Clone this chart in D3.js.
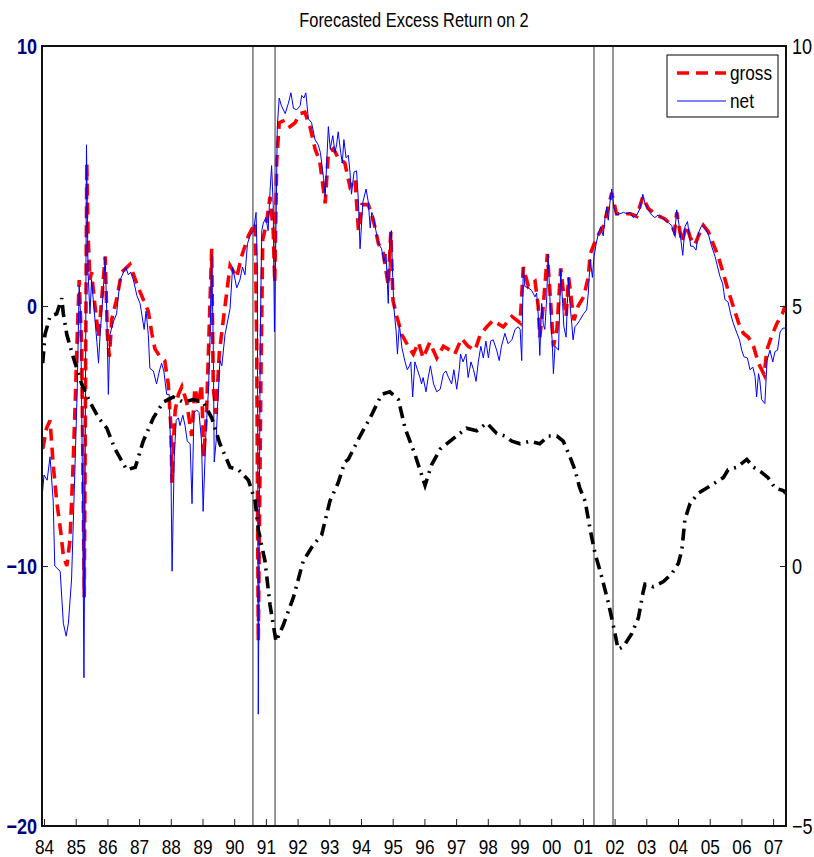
<!DOCTYPE html>
<html>
<head>
<meta charset="utf-8">
<title>Forecasted Excess Return on 2</title>
<style>
body { margin: 0; background: #fff; overflow: hidden; }
text { font-family: "Liberation Sans", Arial, sans-serif; }
.axis path { display: none; }
.axis line { stroke: #222; stroke-width: 1; }
</style>
</head>
<body>
<script src="https://cdn.jsdelivr.net/npm/d3@7"></script>
<script>
var width = 814, height = 857,
    margin = {top: 46, right: 28, bottom: 31, left: 42};

// year ticks on the bottom axis
var yearTicks = d3.range(1984, 2008);
var leftTicks = [-20, -10, 0, 10];
var rightTicks = [-5, 0, 5, 10];
// gray vertical lines (recession start / end)
var recessions = [1990.59, 1991.29, 2001.35, 2001.95];

// net (blue, left axis)
var netYears = [1983.93,1984.00,1984.10,1984.19,1984.29,1984.34,1984.51,1984.61,1984.70,1984.77,1984.87,1984.98,
  1985.05,1985.11,1985.16,1985.22,1985.26,1985.30,1985.34,1985.39,1985.45,1985.50,1985.55,1985.67,1985.72,1985.77,
  1985.87,1985.93,1985.98,1986.03,1986.08,1986.19,1986.29,1986.40,1986.58,1986.66,1986.73,1986.82,1986.93,1987.03,
  1987.16,1987.22,1987.29,1987.34,1987.45,1987.55,1987.64,1987.71,1987.78,1987.87,1987.95,1988.00,1988.04,1988.11,
  1988.17,1988.24,1988.29,1988.38,1988.45,1988.52,1988.61,1988.67,1988.73,1988.82,1988.89,1988.97,1989.02,1989.11,
  1989.19,1989.24,1989.29,1989.34,1989.37,1989.43,1989.47,1989.55,1989.61,1989.71,1989.87,1989.95,1990.08,1990.18,
  1990.26,1990.34,1990.42,1990.50,1990.61,1990.69,1990.73,1990.76,1990.82,1990.87,1990.92,1991.00,1991.07,1991.13,
  1991.18,1991.23,1991.27,1991.32,1991.36,1991.42,1991.49,1991.61,1991.71,1991.79,1991.87,1991.97,1992.08,1992.13,
  1992.20,1992.26,1992.34,1992.44,1992.55,1992.65,1992.72,1992.82,1992.87,1992.92,1992.97,1993.03,1993.11,1993.18,
  1993.23,1993.28,1993.36,1993.41,1993.46,1993.53,1993.60,1993.65,1993.70,1993.78,1993.86,1993.92,1993.97,1994.06,
  1994.16,1994.23,1994.29,1994.34,1994.39,1994.47,1994.55,1994.65,1994.72,1994.79,1994.86,1994.91,1994.96,1995.00,
  1995.04,1995.11,1995.15,1995.21,1995.29,1995.39,1995.46,1995.53,1995.57,1995.63,1995.70,1995.78,1995.86,1995.91,
  1995.96,1996.05,1996.12,1996.19,1996.29,1996.39,1996.50,1996.60,1996.68,1996.76,1996.86,1996.93,1997.02,1997.10,
  1997.14,1997.22,1997.31,1997.38,1997.47,1997.55,1997.63,1997.70,1997.78,1997.86,1997.94,1998.02,1998.09,1998.17,
  1998.28,1998.36,1998.43,1998.54,1998.64,1998.76,1998.86,1998.96,1999.02,1999.07,1999.12,1999.17,1999.28,1999.38,
  1999.49,1999.54,1999.59,1999.64,1999.70,1999.75,1999.80,1999.86,1999.90,1999.95,1999.99,2000.03,2000.07,2000.12,
  2000.23,2000.30,2000.36,2000.40,2000.47,2000.51,2000.55,2000.59,2000.65,2000.69,2000.75,2000.82,2000.90,2001.02,
  2001.12,2001.17,2001.23,2001.30,2001.35,2001.42,2001.49,2001.56,2001.64,2001.70,2001.75,2001.80,2001.85,2001.91,
  2001.98,2002.06,2002.17,2002.28,2002.39,2002.49,2002.59,2002.70,2002.80,2002.89,2002.96,2003.06,2003.17,2003.27,
  2003.37,2003.49,2003.59,2003.70,2003.80,2003.89,2003.96,2004.04,2004.15,2004.22,2004.30,2004.40,2004.48,2004.57,
  2004.64,2004.75,2004.85,2004.96,2005.06,2005.17,2005.25,2005.32,2005.41,2005.48,2005.58,2005.66,2005.74,2005.86,
  2005.94,2006.01,2006.08,2006.19,2006.27,2006.36,2006.43,2006.48,2006.54,2006.58,2006.64,2006.74,2006.81,2006.90,
  2006.99,2007.06,2007.14,2007.22,2007.31,2007.38];
var net = [-7.5,-6.5,-6.7,-5.8,-7.5,-10.0,-10.2,-12.2,-12.7,-12.2,-10.5,-6.1,
  -3.1,0.8,-0.5,-7.5,-14.3,-6.1,6.2,1.3,-0.3,1.0,0.3,-1.4,-2.2,-1.1,
  0.6,1.9,-0.2,-3.4,-1.1,-0.6,-0.3,1.0,1.5,1.2,1.3,1.0,0.4,0.1,
  -0.9,-0.2,-1.1,-2.4,-2.5,-3.0,-2.5,-2.2,-2.5,-3.4,-3.4,-5.8,-10.2,-5.8,
  -4.4,-4.3,-4.6,-4.2,-4.6,-5.2,-5.3,-7.6,-4.1,-4.0,-4.1,-5.2,-7.9,-4.8,
  -3.2,-1.1,2.0,-1.5,-6.0,-5.2,-4.0,-2.1,-2.3,-1.1,-0.1,1.5,0.7,1.0,
  1.5,1.2,2.4,2.7,2.9,3.6,1.5,-15.7,-1.5,2.9,3.2,3.4,2.9,4.4,
  5.4,3.9,-1.0,3.2,6.9,8.0,7.7,7.4,7.8,8.2,7.6,7.55,7.7,8.1,
  8.0,8.2,7.2,7.05,6.4,6.2,5.9,4.9,4.2,5.55,6.9,6.05,6.55,5.9,
  6.2,6.7,5.9,5.5,6.4,5.7,5.8,5.2,4.3,5.15,5.2,4.0,2.2,4.0,
  4.5,4.0,3.0,3.6,3.45,2.9,2.4,2.2,1.7,2.0,0.1,2.6,2.9,1.1,
  -0.1,-1.0,-1.85,-0.7,-1.6,-2.15,-2.45,-2.3,-2.15,-3.5,-2.15,-2.45,-2.75,-3.0,
  -2.75,-3.3,-2.75,-2.3,-3.0,-3.3,-3.2,-2.6,-2.5,-2.75,-3.0,-2.45,-3.2,-2.45,
  -1.85,-2.15,-1.85,-2.75,-2.15,-2.45,-2.9,-2.15,-1.55,-2.0,-1.35,-2.0,-1.35,-1.3,
  -1.7,-2.1,-1.55,-1.05,-1.45,-1.3,-0.9,-0.8,-0.9,-2.1,1.5,0.75,0.7,0.6,
  0.35,0.5,-0.3,-1.9,0.1,-0.7,-0.9,0.35,2.0,0.6,-0.7,-1.3,-2.6,-1.55,
  -1.7,1.4,0.1,-0.8,-1.2,0.1,1.1,0.1,-0.7,-1.3,-0.8,-0.7,-0.55,-0.3,
  -0.15,0.5,1.8,1.1,1.9,2.4,2.8,3.05,2.7,3.4,3.8,3.3,3.95,4.5,
  3.8,3.5,3.55,3.6,3.55,3.6,3.4,3.5,3.75,4.3,3.95,3.7,3.5,3.4,
  3.5,3.4,3.3,3.2,3.1,2.7,3.7,3.05,1.95,3.05,3.25,2.3,2.3,2.15,
  2.8,3.1,3.0,2.75,2.3,1.9,1.5,1.15,0.85,0.25,0.15,-0.3,-0.65,-1.05,
  -1.3,-1.7,-1.95,-2.0,-2.45,-2.35,-2.7,-3.5,-2.6,-2.85,-3.6,-3.75,-2.1,-1.7,
  -2.15,-1.75,-1.7,-1.0,-0.85,-0.85];

// gross (red dashed, left axis)
var grossYears = [1983.96,1984.08,1984.19,1984.29,1984.40,1984.53,1984.61,1984.72,1984.82,1984.91,1984.98,1985.05,
  1985.11,1985.19,1985.24,1985.27,1985.31,1985.35,1985.39,1985.45,1985.50,1985.60,1985.72,1985.82,1985.93,1986.00,
  1986.06,1986.14,1986.29,1986.45,1986.71,1986.93,1987.13,1987.29,1987.40,1987.50,1987.66,1987.81,1987.92,1988.00,
  1988.04,1988.08,1988.14,1988.24,1988.35,1988.50,1988.66,1988.76,1988.87,1988.97,1989.04,1989.13,1989.22,1989.29,
  1989.34,1989.43,1989.53,1989.66,1989.87,1990.08,1990.23,1990.45,1990.66,1990.71,1990.76,1990.84,1990.90,1991.02,
  1991.13,1991.23,1991.28,1991.34,1991.42,1991.61,1991.76,1991.92,1992.08,1992.23,1992.39,1992.55,1992.70,1992.87,
  1992.97,1993.13,1993.28,1993.44,1993.49,1993.65,1993.81,1993.92,1994.03,1994.23,1994.39,1994.55,1994.70,1994.86,
  1994.94,1995.01,1995.13,1995.29,1995.49,1995.65,1995.81,1995.96,1996.17,1996.39,1996.60,1996.81,1996.96,1997.17,
  1997.38,1997.60,1997.76,1997.97,1998.17,1998.28,1998.49,1998.76,1999.02,1999.12,1999.28,1999.49,1999.59,1999.64,
  1999.75,1999.88,1999.99,2000.07,2000.18,2000.30,2000.38,2000.47,2000.55,2000.65,2000.72,2000.85,2001.02,2001.17,
  2001.23,2001.44,2001.64,2001.75,2001.91,2002.06,2002.28,2002.49,2002.70,2002.89,2003.06,2003.33,2003.59,2003.80,
  2003.89,2003.96,2004.12,2004.27,2004.38,2004.53,2004.68,2004.80,2004.96,2005.11,2005.27,2005.43,2005.58,2005.74,
  2005.91,2006.06,2006.22,2006.38,2006.54,2006.72,2006.80,2006.97,2007.13,2007.29,2007.38];
var gross = [-5.5,-4.7,-4.4,-6.1,-7.5,-8.7,-9.6,-10.0,-9.0,-6.35,-3.9,-1.1,
  1.0,-1.65,-7.5,-11.2,-3.1,5.5,2.75,1.0,1.3,0.1,-1.2,0.25,1.9,-1.1,
  -1.95,-0.5,0.25,1.3,1.6,0.85,0.25,-0.2,-1.05,-1.65,-1.95,-2.1,-3.0,-4.6,
  -6.8,-5.3,-4.0,-3.4,-3.1,-3.7,-5.0,-3.15,-3.8,-3.0,-5.8,-4.0,-0.5,2.2,
  -3.15,-4.15,-1.8,-0.5,1.55,1.1,1.9,2.7,3.2,-1.5,-12.9,-3.15,2.55,3.2,
  4.2,2.9,0.9,5.55,7.05,7.15,6.9,7.05,7.4,7.45,6.9,6.05,5.55,3.95,
  5.9,6.05,5.7,5.55,5.5,4.6,4.9,2.9,3.9,3.9,3.3,2.4,2.05,0.8,
  2.85,0.2,-0.4,-1.1,-1.55,-1.85,-1.4,-2.0,-1.4,-2.0,-1.55,-1.7,-1.85,-1.25,
  -1.55,-1.7,-1.1,-0.8,-0.55,-0.65,-0.8,-0.4,-0.65,1.5,0.75,0.95,0.0,-1.2,
  0.0,2.0,0.0,-1.55,-0.9,1.45,0.6,-0.4,1.1,0.1,-0.55,0.0,0.35,1.1,
  2.0,2.65,3.05,3.55,4.35,3.55,3.55,3.55,3.45,4.2,3.75,3.5,3.35,3.1,
  2.85,3.6,2.45,3.1,2.65,2.35,2.8,3.1,2.85,2.4,1.9,1.25,0.6,0.0,
  -0.65,-1.05,-1.2,-1.55,-2.2,-2.65,-1.7,-1.1,-0.65,-0.3,0.0];

// third series (black dash-dot, right axis)
var rightYears = [1983.96,1984.03,1984.19,1984.40,1984.56,1984.61,1984.72,1984.93,1985.19,1985.45,1985.72,1985.98,
  1986.24,1986.61,1986.88,1987.13,1987.45,1987.76,1988.08,1988.40,1988.71,1989.02,1989.29,1989.55,1989.87,1990.13,
  1990.45,1990.66,1990.76,1990.97,1991.13,1991.32,1991.54,1991.87,1992.18,1992.49,1992.76,1993.02,1993.28,1993.49,
  1993.60,1993.97,1994.29,1994.65,1994.91,1995.18,1995.39,1995.70,1995.86,1996.02,1996.23,1996.50,1996.81,1997.12,
  1997.33,1997.65,1997.97,1998.28,1998.54,1998.76,1999.02,1999.33,1999.64,1999.91,2000.18,2000.38,2000.59,2000.75,
  2000.90,2001.07,2001.23,2001.38,2001.59,2001.80,2001.98,2002.11,2002.28,2002.54,2002.75,2002.90,2002.96,2003.22,
  2003.54,2003.80,2004.01,2004.12,2004.22,2004.38,2004.64,2004.91,2005.17,2005.43,2005.58,2005.86,2006.17,2006.38,
  2006.64,2006.84,2007.06,2007.32,2007.40];
var rightVals = [3.9,4.45,4.8,4.85,5.15,4.85,4.45,4.0,3.5,3.15,2.85,2.65,
  2.25,1.85,1.9,2.4,2.85,3.15,3.25,3.15,3.2,3.15,2.85,2.35,1.9,1.85,
  1.65,1.25,0.7,0.1,-0.75,-1.45,-1.15,-0.6,0.1,0.4,0.6,1.25,1.6,2.0,
  2.05,2.5,2.85,3.3,3.35,3.2,2.65,2.15,1.85,1.55,1.95,2.25,2.4,2.55,
  2.65,2.6,2.75,2.55,2.5,2.4,2.35,2.4,2.35,2.5,2.5,2.4,2.1,1.85,
  1.5,1.25,0.7,0.25,-0.2,-0.7,-1.2,-1.6,-1.55,-1.3,-1.0,-0.5,-0.35,-0.4,
  -0.3,-0.15,0.05,0.3,0.9,1.2,1.4,1.5,1.6,1.7,1.85,1.9,2.05,1.9,
  1.8,1.7,1.5,1.45,1.4];

var svg = d3.select("body").append("svg")
  .attr("width", width)
  .attr("height", height);

var x = d3.scaleLinear().domain([1983.937, 2007.407]).range([margin.left, width - margin.right]);
var yLeft = d3.scaleLinear().domain([-20, 10]).range([height - margin.bottom, margin.top]);
var yRight = d3.scaleLinear().domain([-5, 10]).range([height - margin.bottom, margin.top]);

// the figure's text is condensed: squeeze Liberation Sans horizontally
function squeeze(sel) {
  sel.each(function() {
    var t = d3.select(this);
    var tx = +t.attr("x") || 0, ty = +t.attr("y") || 0;
    t.attr("x", 0).attr("y", 0)
      .attr("transform", "translate(" + tx + "," + ty + ") scale(0.82,1)");
  });
}

// recession lines
svg.selectAll("line.rec")
  .data(recessions)
  .enter().append("line")
  .attr("class", "rec")
  .attr("x1", function(d) { return x(d); })
  .attr("x2", function(d) { return x(d); })
  .attr("y1", margin.top)
  .attr("y2", height - margin.bottom)
  .attr("stroke", "#8c8c8c")
  .attr("stroke-width", 1.8);

var lineLeft = d3.line().x(function(d) { return x(d[0]); }).y(function(d) { return yLeft(d[1]); });
var lineRight = d3.line().x(function(d) { return x(d[0]); }).y(function(d) { return yRight(d[1]); });

svg.append("path")
  .datum(d3.zip(grossYears, gross))
  .attr("d", lineLeft)
  .attr("fill", "none")
  .attr("stroke", "#ff0000")
  .attr("stroke-width", 3.6)
  .attr("stroke-dasharray", "12,7");

svg.append("path")
  .datum(d3.zip(netYears, net))
  .attr("d", lineLeft)
  .attr("fill", "none")
  .attr("stroke", "#0000ff")
  .attr("stroke-width", 1);

svg.append("path")
  .datum(d3.zip(rightYears, rightVals))
  .attr("d", lineRight)
  .attr("fill", "none")
  .attr("stroke", "#000")
  .attr("stroke-width", 3.6)
  .attr("stroke-dasharray", "12,6,2,6");

// axes
var xAxis = d3.axisBottom(x)
  .tickValues(yearTicks)
  .tickFormat(function(d) { return String(d).slice(2); })
  .tickSize(-7)
  .tickSizeOuter(0)
  .tickPadding(13);

svg.append("g")
  .attr("class", "axis")
  .attr("transform", "translate(0," + (height - margin.bottom) + ")")
  .call(xAxis)
  .selectAll("text")
  .attr("fill", "#000")
  .style("font-size", "21px")
  .call(squeeze);

svg.append("g")
  .attr("class", "axis")
  .attr("transform", "translate(" + margin.left + ",0)")
  .call(d3.axisLeft(yLeft).tickValues(leftTicks).tickSize(-6).tickSizeOuter(0).tickPadding(5))
  .selectAll("text")
  .attr("fill", "#00007f")
  .style("font-weight", "bold")
  .style("font-size", "22px")
  .call(squeeze);

svg.append("g")
  .attr("class", "axis")
  .attr("transform", "translate(" + (width - margin.right) + ",0)")
  .call(d3.axisRight(yRight).tickValues(rightTicks).tickSize(-6).tickSizeOuter(0).tickPadding(6))
  .selectAll("text")
  .attr("fill", "#000")
  .style("font-size", "22px")
  .call(squeeze);

// frame
svg.append("rect")
  .attr("x", margin.left)
  .attr("y", margin.top)
  .attr("width", width - margin.left - margin.right)
  .attr("height", height - margin.top - margin.bottom)
  .attr("fill", "none")
  .attr("stroke", "#111")
  .attr("stroke-width", 2);

// title
svg.append("text")
  .attr("x", (margin.left + width - margin.right) / 2)
  .attr("y", 27)
  .attr("text-anchor", "middle")
  .style("font-size", "20px")
  .text("Forecasted Excess Return on 2")
  .call(squeeze);

// legend
var legend = svg.append("g").attr("transform", "translate(667,55)");
legend.append("rect")
  .attr("width", 111).attr("height", 62)
  .attr("fill", "#fff").attr("stroke", "#000").attr("stroke-width", 1);
legend.append("line")
  .attr("x1", 10).attr("x2", 59).attr("y1", 18).attr("y2", 18)
  .attr("stroke", "#ff0000").attr("stroke-width", 3.6).attr("stroke-dasharray", "12,7");
legend.append("line")
  .attr("x1", 10).attr("x2", 59).attr("y1", 46).attr("y2", 46)
  .attr("stroke", "#0000ff").attr("stroke-width", 1);
legend.append("text").attr("x", 63).attr("y", 25).style("font-size", "21px").text("gross").call(squeeze);
legend.append("text").attr("x", 63).attr("y", 53).style("font-size", "21px").text("net").call(squeeze);
</script>
</body>
</html>
